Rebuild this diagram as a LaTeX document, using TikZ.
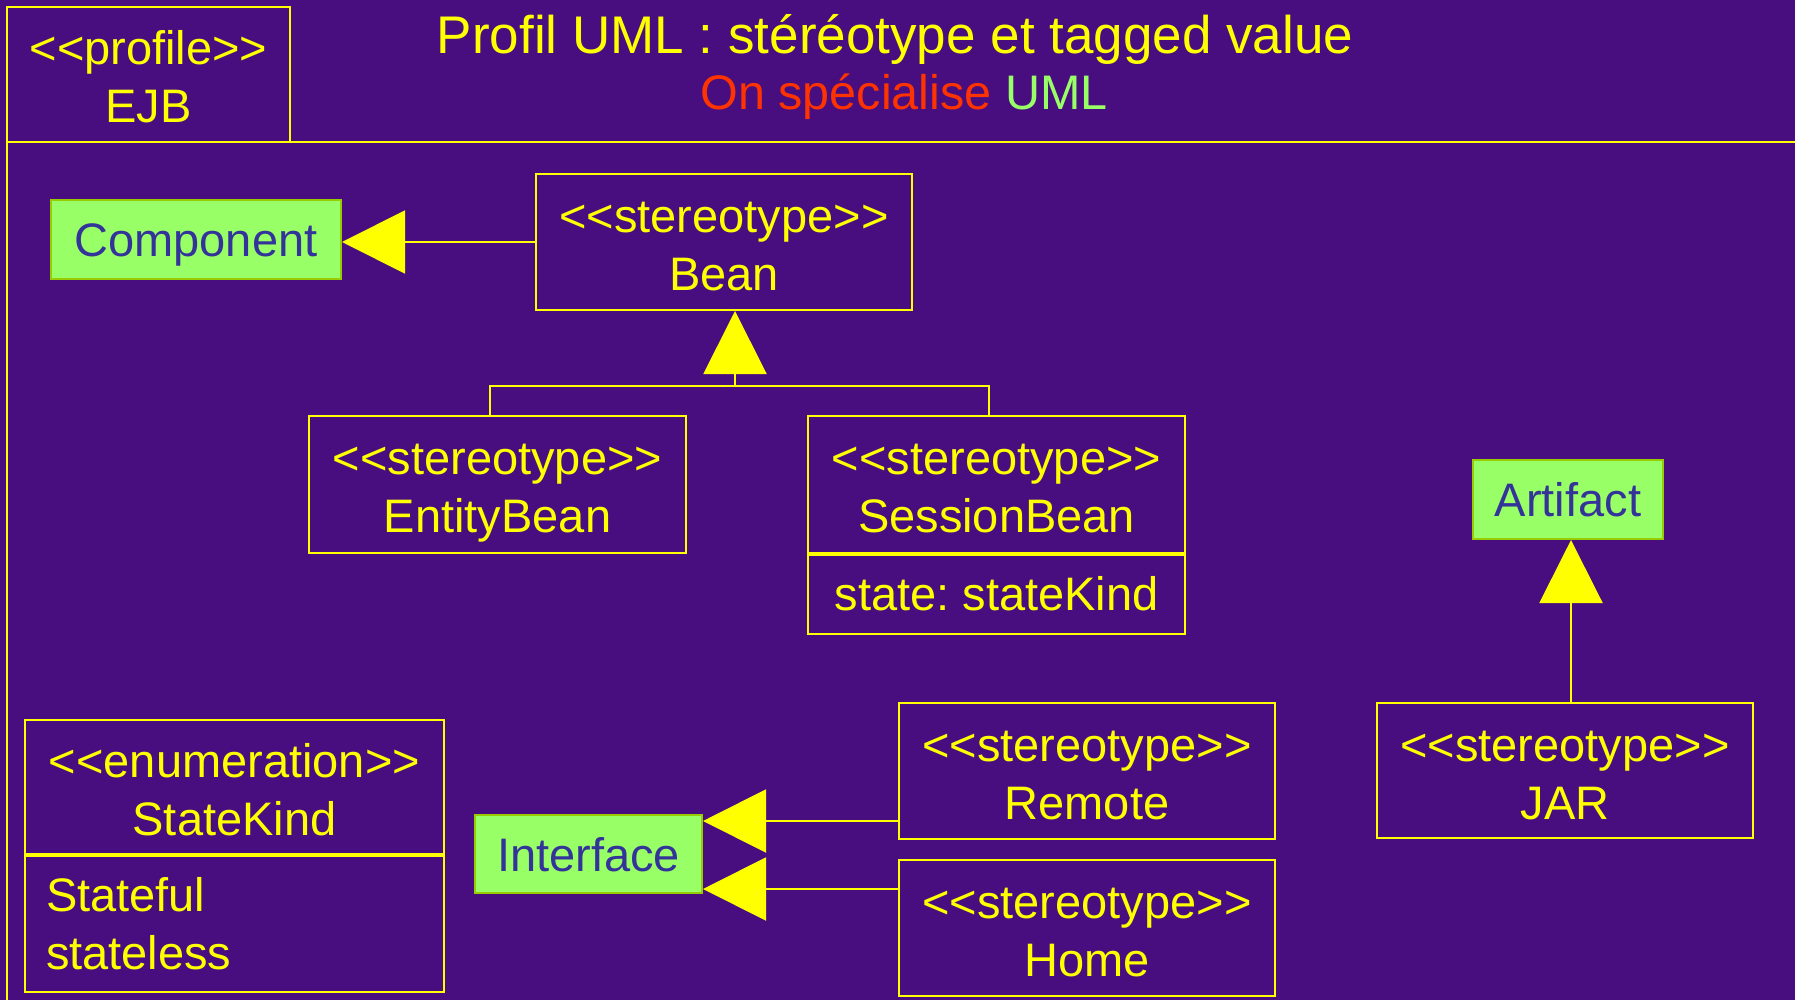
\documentclass[tikz,border=0pt]{standalone}
\usepackage{fontspec}
\setmainfont{Liberation Sans}
\usetikzlibrary{arrows.meta}
\definecolor{bg}{RGB}{72,14,128}
\definecolor{uyel}{RGB}{255,255,0}
\definecolor{ugreen}{RGB}{153,255,102}
\definecolor{ugreenb}{RGB}{153,204,0}
\definecolor{ublue}{RGB}{51,51,153}
\definecolor{ured}{RGB}{255,51,0}
\newcommand\tstrut{\rule{0pt}{51pt}}
\newcommand\bstrut{\rule[-12pt]{0pt}{12pt}}
\frenchspacing
\begin{document}
\begin{tikzpicture}[x=1pt,y=-1pt,
  umlbox/.style={draw=uyel, line width=2pt, text=uyel, font=\fontsize{47}{58}\selectfont, align=center, inner sep=0pt},
  metabox/.style={draw=ugreenb, fill=ugreen, line width=2pt, text=ublue, font=\fontsize{47}{58}\selectfont, inner sep=0pt, text height=34pt, text depth=0pt},
  gen/.style={draw=uyel, line width=2pt, -{Triangle[length=63pt,width=63pt]}},
  frameline/.style={draw=uyel, line width=2pt}]
\fill[bg] (0,0) rectangle (1795,1000);
\useasboundingbox (0,0) rectangle (1795,1000);
% package frame
\draw[frameline] (7,1000) -- (7,142) -- (1795,142);
\node[umlbox, minimum width=283, minimum height=135] (ejb) at (148.5,74.5) {\tstrut<{}<profile>{}>\\EJB\bstrut};
% title
\node[text=uyel, font=\fontsize{53}{60}\selectfont, anchor=base, inner sep=0pt] (title) at (895,54) {Profil UML : stéréotype et tagged value};
\node[font=\fontsize{48.5}{60}\selectfont, anchor=base, inner sep=0pt] (sub) at (904,110) {\textcolor{ured}{On spécialise} \textcolor{ugreen}{UML}};
% classes
\node[metabox, minimum width=290, minimum height=79] (comp) at (196,239.5) {Component};
\node[umlbox, minimum width=376, minimum height=136] (bean) at (724,242) {\tstrut<{}<stereotype>{}>\\Bean\bstrut};
\node[umlbox, minimum width=377, minimum height=137] (eb) at (497.5,484) {\tstrut<{}<stereotype>{}>\\EntityBean\bstrut};
\node[umlbox, minimum width=377, minimum height=137] (sb) at (996.5,484) {\tstrut<{}<stereotype>{}>\\SessionBean\bstrut};
\node[umlbox, minimum width=377, minimum height=79, anchor=north] (sbattr) at (sb.south) {state: stateKind};
\node[metabox, minimum width=190, minimum height=79] (artifact) at (1568,499.5) {Artifact};
\node[umlbox, minimum width=376, minimum height=135] (jar) at (1565,770.5) {\tstrut<{}<stereotype>{}>\\JAR\bstrut};
\node[umlbox, minimum width=419, minimum height=134] (sk) at (234.5,787) {\tstrut<{}<enumeration>{}>\\StateKind\bstrut};
\node[umlbox, minimum width=419, minimum height=136, anchor=north, align=left, text width=377] (skattr) at (sk.south) {Stateful\\stateless};
\node[metabox, minimum width=227, minimum height=78] (iface) at (588.5,854) {Interface};
\node[umlbox, minimum width=376, minimum height=136] (remote) at (1087,771) {\tstrut<{}<stereotype>{}>\\Remote\bstrut};
\node[umlbox, minimum width=376, minimum height=136] (home) at (1087,928) {\tstrut<{}<stereotype>{}>\\Home\bstrut};
% connectors
\draw[gen] (bean.west) -- (bean.west -| comp.east);
\coordinate (j) at (735,386);
\draw[gen] (j) -- (j |- bean.south);
\draw[frameline] ([xshift=-7.5]eb.north) |- (j) -| ([xshift=-7.5]sb.north);
\draw[gen] ([xshift=3]artifact.south |- jar.north) -- ([xshift=3]artifact.south);
\draw[gen] ([yshift=-50]remote.west) -- ([yshift=-50]remote.west -| iface.east);
\draw[gen] ([yshift=39]home.west) -- ([yshift=39]home.west -| iface.east);
\end{tikzpicture}
\end{document}
